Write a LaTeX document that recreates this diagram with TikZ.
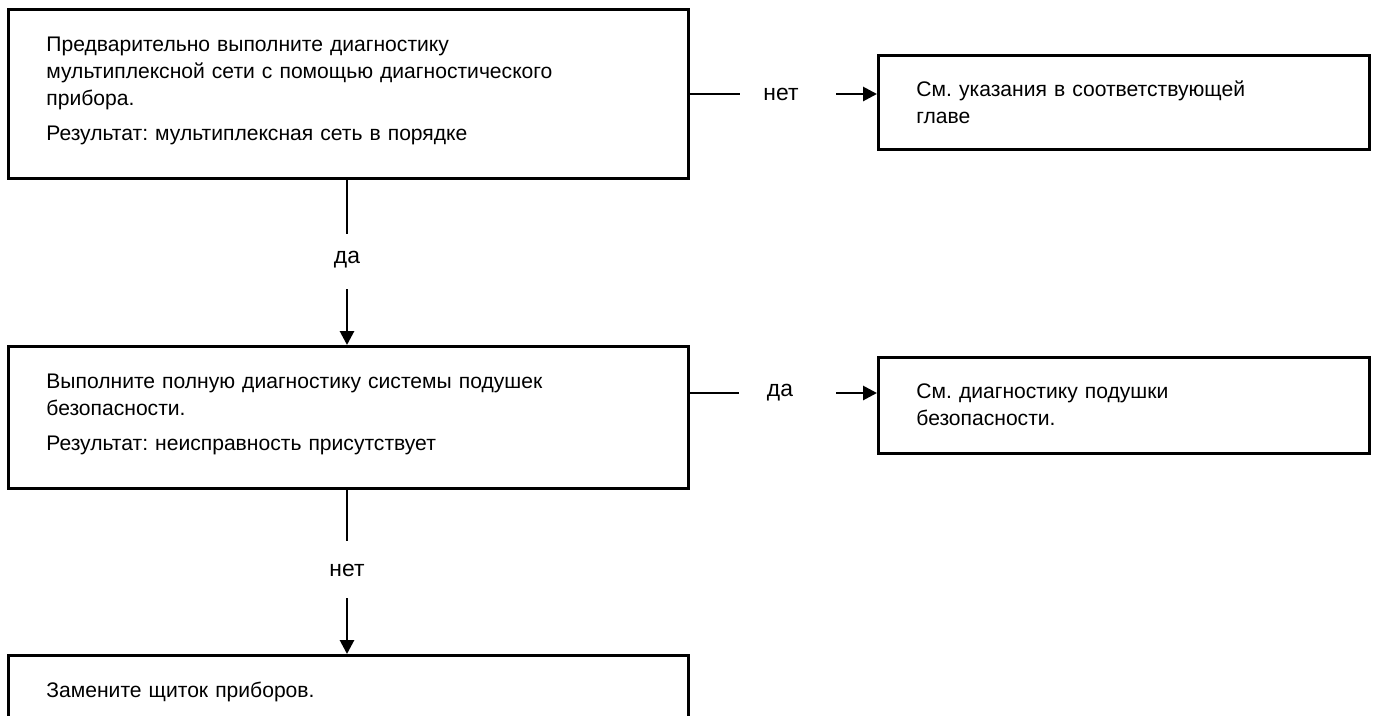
\documentclass[tikz,border=0pt]{standalone}
\usepackage{fontspec}
\setmainfont{Liberation Sans}
\usetikzlibrary{arrows.meta}
\frenchspacing

\begin{document}
\begin{tikzpicture}[x=0.2mm, y=-0.2mm,
  box/.style={draw, line width=1.6pt, anchor=north west, inner xsep=7.6mm, inner ysep=0pt,
    align=left, font=\fontsize{12}{15.3}\selectfont},
  leftbox/.style={box, text width=120.8mm, text height=8.4mm},
  rightbox/.style={box, text width=83mm, text height=8.2mm},
  lbl/.style={font=\fontsize{13}{15}\selectfont},
  link/.style={line width=1.6pt},
  arrowlink/.style={link, -{Triangle[length=2.8mm, width=2.8mm]}}]
\path[use as bounding box] (0,0) rectangle (1373,715);

\node[leftbox, text depth=25.4mm] (diag) at (7,8) {Предварительно выполните диагностику\\мультиплексной сети с помощью диагностического\\прибора.\\[1.6mm]Результат: мультиплексная сеть в порядке};
\node[rightbox, text depth=10.6mm] (chapter) at (877,54) {См. указания в соответствующей\\главе};
\node[leftbox, text depth=20mm] (airbag) at (7,345) {Выполните полную диагностику системы подушек\\безопасности.\\[1.6mm]Результат: неисправность присутствует};
\node[rightbox, text depth=11mm] (airbagdiag) at (877,356) {См. диагностику подушки\\безопасности.};
\node[leftbox, text depth=30mm] (panel) at (7,654) {Замените щиток приборов.};

\node[lbl] (no1) at (781,94) {нет};
\node[lbl] (yes1) at (347,260) {да};
\node[lbl] (yes2) at (780,393) {да};
\node[lbl] (no2) at (347,570) {нет};

\draw[link] (no1 -| diag.east) -- ([xshift=-8.2mm]no1.center);
\draw[arrowlink] ([xshift=11mm]no1.center) -- (no1 -| chapter.west);
\draw[link] (yes1 |- diag.south) -- ([yshift=5.2mm]yes1.center);
\draw[arrowlink] ([yshift=-5.8mm]yes1.center) -- (yes1 |- airbag.north);

\draw[link] (yes2 -| airbag.east) -- ([xshift=-8.2mm]yes2.center);
\draw[arrowlink] ([xshift=11.2mm]yes2.center) -- (yes2 -| airbagdiag.west);
\draw[link] (no2 |- airbag.south) -- ([yshift=5.8mm]no2.center);
\draw[arrowlink] ([yshift=-5.6mm]no2.center) -- (no2 |- panel.north);
\end{tikzpicture}
\end{document}
